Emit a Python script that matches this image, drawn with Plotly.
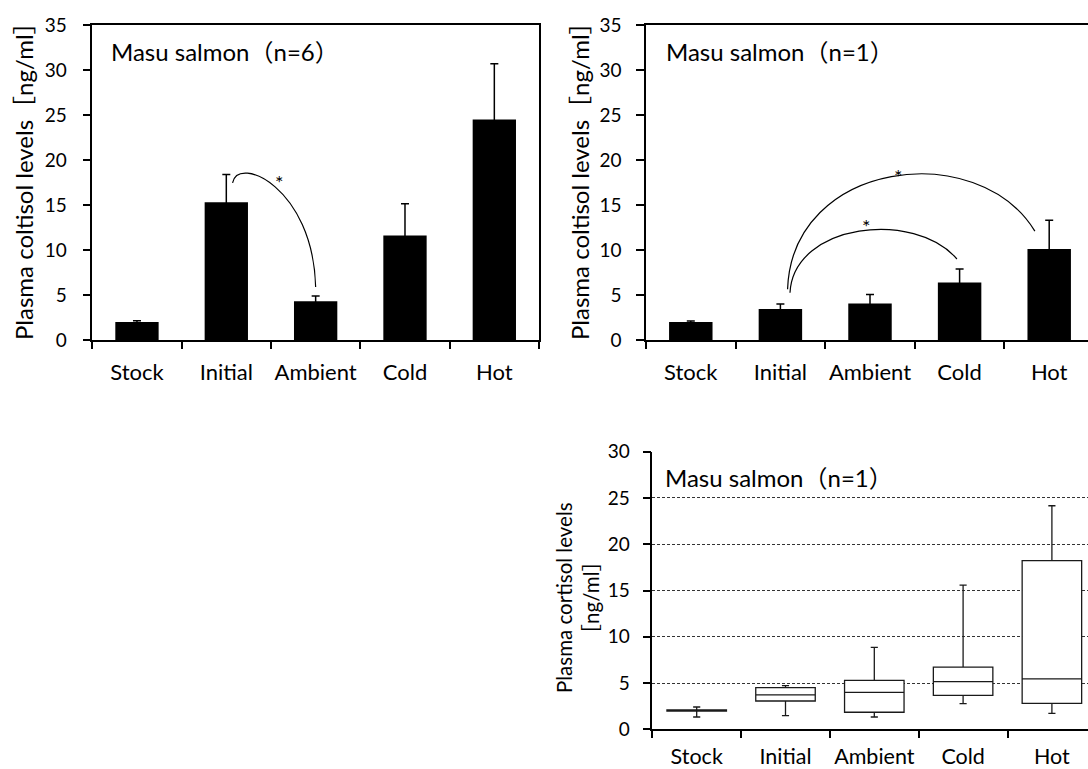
import plotly.graph_objects as go

CATEGORIES = ["Stock", "Initial", "Ambient", "Cold", "Hot"]
POS = list(range(len(CATEGORIES)))

# Mean plasma cortisol (ng/ml) with upper error, n=6
MEAN_N6 = [2.0, 15.3, 4.3, 11.6, 24.5]
ERR_N6 = [0.15, 3.1, 0.6, 3.55, 6.2]

# Mean plasma cortisol (ng/ml) with upper error, n=1
MEAN_N1 = [2.0, 3.45, 4.05, 6.4, 10.1]
ERR_N1 = [0.1, 0.55, 1.0, 1.5, 3.2]

# Box summary statistics (ng/ml), n=1
BOX_LOW = [1.33, 1.48, 1.33, 2.77, 1.73]
BOX_Q1 = [1.98, 3.06, 1.84, 3.67, 2.81]
BOX_MED = [2.05, 3.71, 4.0, 5.15, 5.44]
BOX_Q3 = [2.1, 4.5, 5.29, 6.73, 18.22]
BOX_HIGH = [2.41, 4.72, 8.86, 15.59, 24.16]

PANEL_TITLES = ["Masu salmon（n=6）", "Masu salmon（n=1）", "Masu salmon（n=1）"]
Y_TITLE_BAR = "Plasma coltisol levels［ng/ml］"
Y_TITLE_BOX = "Plasma cortisol levels<br>［ng/ml］"

FONT = "Lato, 'Noto Sans CJK JP', sans-serif"
W, H = 1088, 769


def top(means, errs, i):
    return means[i] + errs[i]


fig = go.Figure()

# Bars; the lower half of each error bar falls inside the black bar, so
# only the upper whisker shows.
for means, errs, xa, ya in [(MEAN_N6, ERR_N6, "x", "y"), (MEAN_N1, ERR_N1, "x2", "y2")]:
    fig.add_trace(go.Bar(
        x=POS, y=means, width=0.485,
        marker=dict(color="black", line=dict(width=0)),
        error_y=dict(type="data", array=errs, symmetric=True,
                     color="black", thickness=1.5, width=4),
        xaxis=xa, yaxis=ya, showlegend=False,
    ))

fig.add_trace(go.Box(
    x=POS, q1=BOX_Q1, median=BOX_MED, q3=BOX_Q3,
    lowerfence=BOX_LOW, upperfence=BOX_HIGH,
    width=0.67, whiskerwidth=0.12, boxpoints=False,
    fillcolor="white", line=dict(color="#1a1a1a", width=1.3),
    xaxis="x3", yaxis="y3", showlegend=False,
))


def xaxis_cfg(domain, rng, anchor, mirror, standoff=12, size=22):
    return dict(
        domain=domain, range=rng, anchor=anchor, automargin=False,
        tickmode="array", tickvals=POS, ticktext=CATEGORIES, ticks="",
        ticklabelstandoff=standoff,
        tickfont=dict(family=FONT, size=size, color="black"),
        showline=True, linecolor="black", linewidth=1.5, mirror=mirror,
        showgrid=False, zeroline=False,
        minor=dict(tick0=-0.5, dtick=1, ticks="outside", ticklen=7,
                   tickwidth=1.5, tickcolor="black", showgrid=False),
    )


def yaxis_cfg(domain, rng, anchor, mirror, standoff, grid=False):
    cfg = dict(
        domain=domain, range=rng, anchor=anchor, automargin=False,
        tickmode="linear", tick0=0, dtick=5,
        ticks="outside", ticklen=8, tickwidth=1.5, tickcolor="black",
        ticklabelstandoff=standoff,
        tickfont=dict(family=FONT, size=19, color="black"),
        showline=True, linecolor="black", linewidth=1.5, mirror=mirror,
        zeroline=False, showgrid=grid,
    )
    if grid:
        cfg.update(gridcolor="#333333", gridwidth=1, griddash="3px,2px")
    return cfg


# panel geometry in pixels
top_y = [1 - 340 / H, 1 - 25 / H]
fig.update_layout(
    width=W, height=H, margin=dict(l=0, r=0, t=0, b=0, autoexpand=False),
    paper_bgcolor="white", plot_bgcolor="white",
    showlegend=False,
    font=dict(family=FONT, color="black"),
    xaxis=xaxis_cfg([92.3 / W, 539 / W], [-0.5, 4.5], "y", True),
    yaxis=yaxis_cfg(top_y, [0, 35], "x", True, 12),
    xaxis2=xaxis_cfg([646 / W, 1.0], [-0.5, -0.5 + (W - 646) / 89.6], "y2", True),
    yaxis2=yaxis_cfg(top_y, [0, 35], "x2", False, 11),
    xaxis3=xaxis_cfg([652.3 / W, 1.0], [-0.5, -0.5 + (W - 652.3) / 88.8], "y3", False,
                     standoff=7, size=21.5),
    yaxis3=yaxis_cfg([1 - 729.3 / H, 1 - 451.7 / H], [0, 30], "x3", False, 9, grid=True),
)


def arc(x0, y0, c1, c2, x3, y3):
    return f"M {x0},{y0} C {c1[0]},{c1[1]} {c2[0]},{c2[1]} {x3},{y3}"


# significance brackets between treatment bars
arcs = [
    ("x", "y", arc(1.07, top(MEAN_N6, ERR_N6, 1) - 0.95, (1.13, 20.6), (1.97, 17.0),
                   2.0, top(MEAN_N6, ERR_N6, 2) + 1.0)),
    ("x2", "y2", arc(1.107, top(MEAN_N1, ERR_N1, 1) + 1.26, (1.15, 13.0), (2.5, 14.5),
                     2.97, top(MEAN_N1, ERR_N1, 3) + 1.1)),
    ("x2", "y2", arc(1.08, top(MEAN_N1, ERR_N1, 1) + 1.63, (1.13, 20.0), (3.2, 22.5),
                     3.84, top(MEAN_N1, ERR_N1, 4) - 1.2)),
]
for xr, yr, path in arcs:
    fig.add_shape(type="path", path=path, xref=xr, yref=yr,
                  line=dict(color="black", width=1.2))

stars = [("x", "y", 1.60, 18.0), ("x2", "y2", 1.96, 13.15), ("x2", "y2", 2.316, 18.7)]
for xr, yr, sx, sy in stars:
    fig.add_annotation(x=sx, y=sy, xref=xr, yref=yr, text="*", showarrow=False,
                       font=dict(family=FONT, size=20, color="black"),
                       xanchor="center", yanchor="middle", yshift=-4)

# panel labels
for text, px, py in zip(PANEL_TITLES, [109, 663.7, 663], [52, 52, 477.5]):
    fig.add_annotation(x=px / W, y=1 - py / H, xref="paper", yref="paper",
                       text=text, showarrow=False, xanchor="left", yanchor="middle",
                       font=dict(family=FONT, size=24, color="black"))

# y-axis titles
for text, px, py, size in [(Y_TITLE_BAR, 23, 175, 24), (Y_TITLE_BAR, 579, 175, 24),
                           (Y_TITLE_BOX, 577, 598, 20.5)]:
    fig.add_annotation(x=px / W, y=1 - py / H, xref="paper", yref="paper",
                       text=text, showarrow=False, textangle=-90,
                       xanchor="center", yanchor="middle",
                       font=dict(family=FONT, size=size, color="black"))

fig.write_html("out.html")
